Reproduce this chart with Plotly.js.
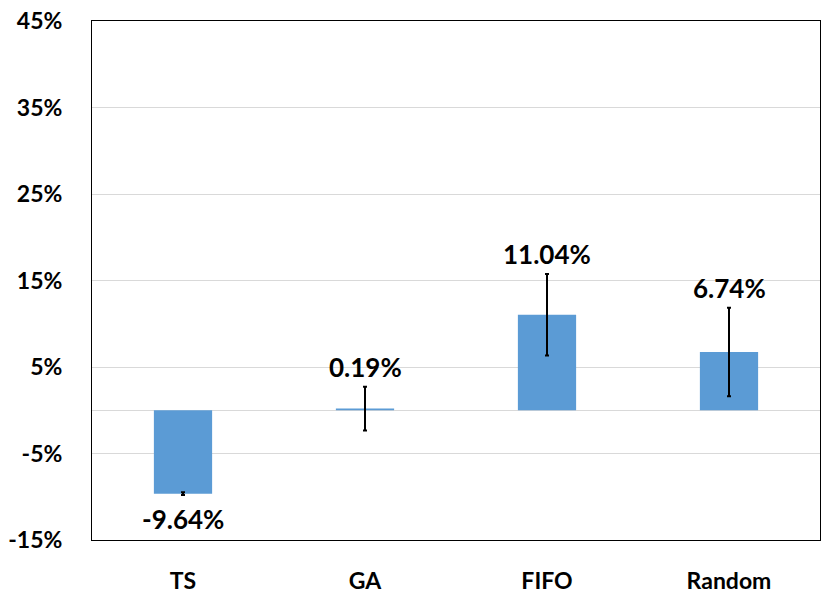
<!DOCTYPE html>
<html>
<head>
<meta charset="utf-8">
<script src="https://cdn.plot.ly/plotly-3.0.1.min.js"></script>
<style>html,body{margin:0;padding:0;background:#fff}#chart{width:830px;height:600px}</style>
</head>
<body>
<div id="chart"></div>
<script>
const categories = ['TS', 'GA', 'FIFO', 'Random'];
const values = [-9.64, 0.19, 11.04, 6.74];
const errors = [0.15, 2.54, 4.72, 5.12];
const labels = ['-9.64%', '0.19%', '11.04%', '6.74%'];
const tickVals = [-15, -5, 5, 15, 25, 35, 45];
const tickText = ['-15%', '-5%', '5%', '15%', '25%', '35%', '45%'];

const font = 'Lato, Calibri, "Open Sans", sans-serif';

const annotations = categories.map((c, i) => {
  const neg = values[i] < 0;
  return {
    x: c,
    y: neg ? values[i] - errors[i] : values[i] + errors[i],
    text: labels[i],
    showarrow: false,
    yanchor: neg ? 'top' : 'bottom',
    yshift: neg ? -6 : 2,
    font: {family: font, size: 26, color: '#000', weight: 'bold'}
  };
});

const trace = {
  type: 'bar',
  x: categories,
  y: values,
  marker: {color: '#5B9BD5'},
  error_y: {type: 'data', array: errors, visible: true, color: '#000', thickness: 2, width: 2},
  hoverinfo: 'none'
};

const layout = {
  width: 830, height: 600,
  margin: {l: 92, r: 10, t: 21, b: 60},
  paper_bgcolor: '#fff', plot_bgcolor: '#fff',
  bargap: 0.68,
  showlegend: false,
  xaxis: {
    showline: true, linecolor: '#000', linewidth: 1, mirror: true,
    tickfont: {family: font, size: 23, color: '#000', weight: 'bold'},
    ticks: '', showgrid: false, ticklabelstandoff: 20
  },
  yaxis: {
    range: [-15, 45],
    tickvals: tickVals, ticktext: tickText,
    showline: true, linecolor: '#000', linewidth: 1, mirror: true,
    showgrid: true, gridcolor: '#d9d9d9', gridwidth: 1,
    zeroline: true, zerolinecolor: '#d9d9d9', zerolinewidth: 1,
    tickfont: {family: font, size: 23, color: '#000', weight: 'bold'},
    ticks: '', ticklabelstandoff: 24
  },
  annotations: annotations
};

Plotly.newPlot('chart', [trace], layout, {displayModeBar: false, staticPlot: true});
</script>
</body>
</html>
